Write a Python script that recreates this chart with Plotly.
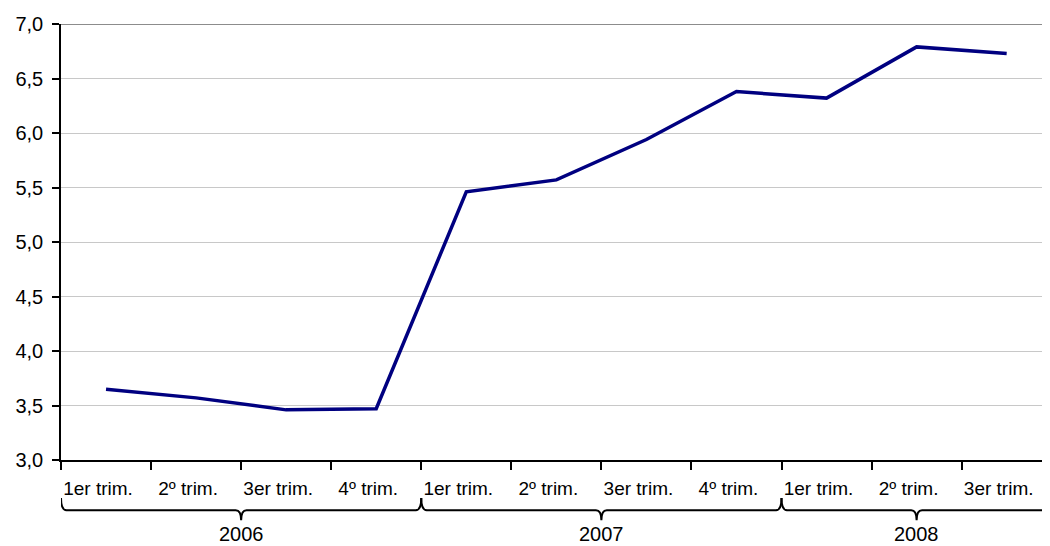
import plotly.graph_objects as go

quarters = ["1er trim.", "2º trim.", "3er trim.", "4º trim.",
            "1er trim.", "2º trim.", "3er trim.", "4º trim.",
            "1er trim.", "2º trim.", "3er trim."]
values = [3.65, 3.57, 3.46, 3.47, 5.46, 5.57, 5.94, 6.38, 6.32, 6.79, 6.73]
years = ["2006", "2007", "2008"]
quarters_per_year = [4, 4, 3]

x_idx = list(range(len(values)))

fig = go.Figure()
fig.add_trace(go.Scatter(
    x=x_idx, y=values, mode="lines",
    line=dict(color="#000080", width=3.5),
    hoverinfo="skip", showlegend=False,
))

FONT = "Liberation Sans, Arial, sans-serif"
FS = 20

# brace geometry (paper y below plot)
y_top, y_mid, y_bot = -0.087, -0.115, -0.138
shapes = []
annotations = []
start = 0
for yr, n in zip(years, quarters_per_year):
    x0 = start - 0.5
    x1 = start + n - 0.5
    xc = (x0 + x1) / 2
    d = 0.06
    path = (f"M {x0},{y_top} Q {x0},{y_mid} {x0+d},{y_mid} "
            f"L {xc-d},{y_mid} Q {xc},{y_mid} {xc},{y_bot} "
            f"Q {xc},{y_mid} {xc+d},{y_mid} "
            f"L {x1-d},{y_mid} Q {x1},{y_mid} {x1},{y_top}")
    shapes.append(dict(type="path", path=path, xref="x", yref="paper",
                       line=dict(color="black", width=2)))
    annotations.append(dict(x=xc, y=-0.170, xref="x", yref="paper",
                            text=yr, showarrow=False,
                            font=dict(family=FONT, size=FS, color="black"),
                            xanchor="center", yanchor="middle"))
    start += n

# darker top border line
shapes.append(dict(type="line", xref="paper", yref="y", x0=0, x1=1, y0=7, y1=7,
                   line=dict(color="#8c8c8c", width=2), layer="below"))

fig.update_layout(
    width=1042, height=538,
    margin=dict(l=53, r=1, t=16, b=86),
    plot_bgcolor="white", paper_bgcolor="white",
    separators=",.",
    shapes=shapes, annotations=annotations,
    font=dict(family=FONT, size=FS, color="black"),
)
fig.update_xaxes(
    tickmode="array", tickvals=x_idx, ticktext=quarters,
    range=[-0.5, 10.47], automargin=False,
    showgrid=False, showline=True, linecolor="black", linewidth=1.5,
    ticks="", ticklabelshift=-8, ticklabelstandoff=10,
    tickfont=dict(family=FONT, size=19, color="black"),
    zeroline=False,
)
# boundary ticks via minor ticks
fig.update_xaxes(minor=dict(tickvals=[i - 0.5 for i in range(len(values))],
                            ticks="outside", ticklen=8, tickcolor="black", tickwidth=1.5,
                            showgrid=False))
fig.update_yaxes(
    range=[3, 7], dtick=0.5, tick0=3, tickformat=".1f", automargin=False,
    showgrid=True, gridcolor="#c8c8c8", gridwidth=1,
    showline=True, linecolor="black", linewidth=1.5,
    ticks="outside", ticklen=7, tickcolor="black", tickwidth=1.5,
    ticklabelstandoff=5,
    tickfont=dict(family=FONT, size=FS, color="black"),
    zeroline=False,
)

fig.write_html("out.html")
